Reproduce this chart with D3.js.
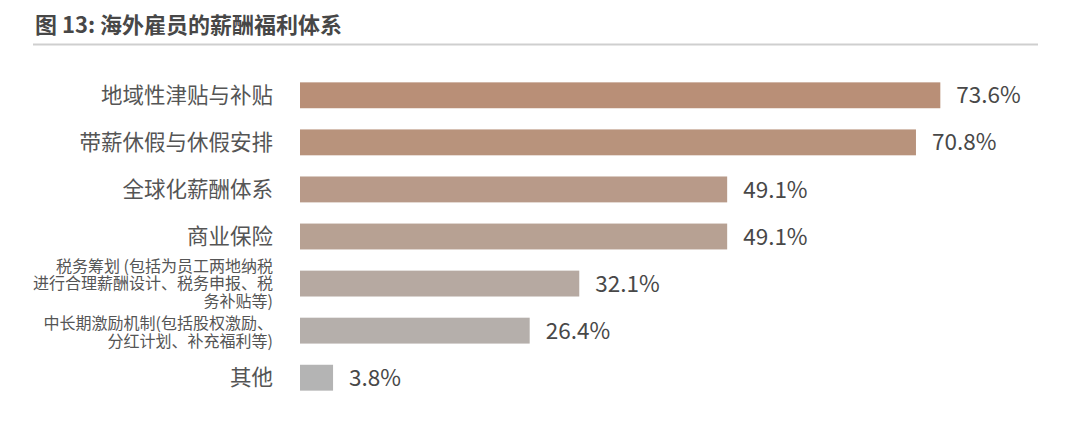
<!DOCTYPE html>
<html><head><meta charset="utf-8">
<script src="https://cdn.jsdelivr.net/npm/d3@7"></script>
<style>body{margin:0;background:#fff;}svg{display:block;}</style>
</head><body>
<script>
const title = "图 13: 海外雇员的薪酬福利体系";
const categories = [
  ["地域性津贴与补贴"],
  ["带薪休假与休假安排"],
  ["全球化薪酬体系"],
  ["商业保险"],
  ["税务筹划 (包括为员工两地纳税", "进行合理薪酬设计、税务申报、税", "务补贴等)"],
  ["中长期激励机制(包括股权激励、", "分红计划、补充福利等)"],
  ["其他"]
];
const values = [73.6, 70.8, 49.1, 49.1, 32.1, 26.4, 3.8];
const colors = ["#b98f77", "#b8937c", "#b89a89", "#b7a193", "#b6a9a1", "#b5afab", "#b4b4b4"];

const W = 1092, H = 426;
const svg = d3.select("body").append("svg").attr("width", W).attr("height", H);
const font = "'Noto Sans CJK SC','Noto Sans',sans-serif";

svg.append("text").attr("x", 35).attr("y", 33).text(title)
  .attr("font-family", font).attr("font-size", 22).attr("font-weight", 700).attr("fill", "#474747");
svg.append("line").attr("x1", 33).attr("x2", 1038).attr("y1", 44.5).attr("y2", 44.5)
  .attr("stroke", "#cfcfcf").attr("stroke-width", 2);

const x = d3.scaleLinear().domain([0, 100]).range([300, 1170]);
const y = d3.scaleBand().domain(d3.range(values.length)).range([72, 401]).paddingInner(0.45).paddingOuter(0.22);

svg.selectAll("rect.bar").data(values).join("rect").attr("class", "bar")
  .attr("x", x(0)).attr("y", (d, i) => y(i)).attr("height", y.bandwidth())
  .attr("width", d => x(d) - x(0)).attr("fill", (d, i) => colors[i]);

svg.selectAll("text.val").data(values).join("text").attr("class", "val")
  .attr("x", d => x(d) + 16).attr("y", (d, i) => y(i) + y.bandwidth() / 2)
  .attr("dy", "0.36em").text(d => d.toFixed(1) + "%")
  .attr("font-family", font).attr("font-size", 22.5).attr("fill", "#484848");

categories.forEach((lines, i) => {
  const cy = y(i) + y.bandwidth() / 2;
  const multi = lines.length > 1;
  const fs = multi ? 16 : 21.5;
  const lh = 17.5;
  lines.forEach((ln, j) => {
    svg.append("text").attr("text-anchor", "end")
      .attr("font-family", font).attr("font-size", fs).attr("fill", "#555")
      .attr("x", 273)
      .attr("y", cy + (j - (lines.length - 1) / 2) * lh + (lines.length === 2 ? 1.5 : 0))
      .attr("dy", "0.36em").text(ln);
  });
});
</script>
</body></html>
